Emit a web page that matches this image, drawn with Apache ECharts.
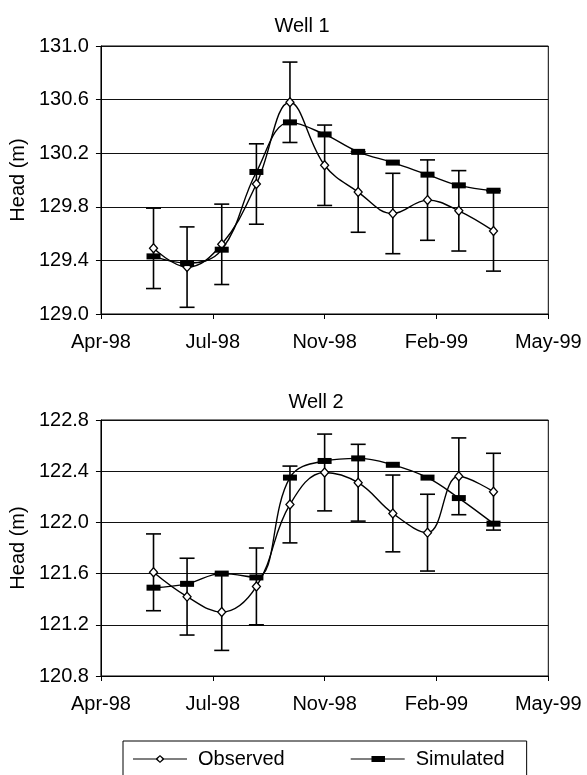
<!DOCTYPE html>
<html>
<head>
<meta charset="utf-8">
<script src="https://cdn.jsdelivr.net/npm/echarts@6/dist/echarts.min.js"></script>
<style>
html,body{margin:0;padding:0;background:#fff;}
#chart{width:587px;height:775px;}
</style>
</head>
<body>
<div id="chart"></div>
<script>
// ---- data ----
const sampleDates = ['1998-06-01','1998-07-01','1998-08-01','1998-09-01','1998-10-01','1998-11-01','1998-12-01','1999-01-01','1999-02-01','1999-03-01','1999-04-01'];
const well1Observed  = [129.49,129.35,129.52,129.97,130.58,130.11,129.91,129.75,129.85,129.77,129.62];
const well1Simulated = [129.43,129.38,129.48,130.06,130.43,130.34,130.21,130.13,130.04,129.96,129.92];
const well1Error     = [0.3,0.3,0.3,0.3,0.3,0.3,0.3,0.3,0.3,0.3,0.3];
const well2Observed  = [121.61,121.42,121.30,121.50,122.14,122.39,122.31,122.07,121.92,122.36,122.24];
const well2Simulated = [121.49,121.52,121.60,121.57,122.35,122.48,122.50,122.45,122.35,122.19,121.99];
const well2Error     = [0.3,0.3,0.3,0.3,0.3,0.3,0.3,0.3,0.3,0.3,0.3];
const titles = ['Well 1','Well 2'];
const seriesNames = ['Observed','Simulated'];
const yAxisName = 'Head (m)';
// x axis: spreadsheet date serials (Apr-98 .. May-99 every 100 days)
const xMin = 35900, xMax = 36300, xStep = 100;
const y1Min = 129.0, y1Max = 131.0, y2Min = 120.8, y2Max = 122.8, yStep = 0.4;

const MONTHS = ['Jan','Feb','Mar','Apr','May','Jun','Jul','Aug','Sep','Oct','Nov','Dec'];
const EPOCH = Date.UTC(1899,11,30);
function toSerial(s){const p=s.split('-').map(Number);return Math.round((Date.UTC(p[0],p[1]-1,p[2])-EPOCH)/86400000);}
function fmtSerial(v){const d=new Date(EPOCH+Math.round(v)*86400000);return MONTHS[d.getUTCMonth()]+'-'+String(d.getUTCFullYear()).slice(2);}
const xs = sampleDates.map(toSerial);

const FONT = 'Liberation Sans, Arial, sans-serif';
const FS = 20;

function pairs(vals){return vals.map((v,i)=>[xs[i],v]);}
function errData(vals,err){return vals.map((v,i)=>[xs[i],v-err[i],v+err[i]]);}

function errRender(params, api){
  const x = api.value(0);
  const lo = api.coord([x, api.value(1)]);
  const hi = api.coord([x, api.value(2)]);
  const w = 7.5;
  const st = {stroke:'#000', lineWidth:1.6};
  return {type:'group', children:[
    {type:'line', shape:{x1:hi[0],y1:hi[1],x2:lo[0],y2:lo[1]}, style:st},
    {type:'line', shape:{x1:hi[0]-w,y1:hi[1],x2:hi[0]+w,y2:hi[1]}, style:st},
    {type:'line', shape:{x1:lo[0]-w,y1:lo[1],x2:lo[0]+w,y2:lo[1]}, style:st}
  ]};
}

function xAxisCfg(gi){
  return {
    type:'value', gridIndex:gi, min:xMin, max:xMax, interval:xStep,
    axisLine:{show:true, onZero:false, lineStyle:{color:'#000', width:1}},
    axisTick:{show:true, inside:false, length:5, lineStyle:{color:'#000'}},
    splitLine:{show:false},
    axisLabel:{color:'#000', fontFamily:FONT, fontSize:FS, margin:18, formatter:fmtSerial, showMinLabel:true, showMaxLabel:true}
  };
}
function yAxisCfg(gi,mn,mx){
  return {
    type:'value', gridIndex:gi, min:mn, max:mx, interval:yStep,
    name:yAxisName, nameLocation:'middle', nameRotate:90, nameGap:72,
    nameTextStyle:{color:'#000', fontFamily:FONT, fontSize:FS},
    axisLine:{show:true, lineStyle:{color:'#000', width:1}},
    axisTick:{show:true, inside:false, length:5, lineStyle:{color:'#000'}},
    splitLine:{show:true, lineStyle:{color:'#111', width:1}},
    axisLabel:{color:'#000', fontFamily:FONT, fontSize:FS, margin:12, formatter:v=>v.toFixed(1)}
  };
}
const obsStyle = {
  type:'line', smooth:0.4, symbol:'diamond', symbolSize:[8,9], showSymbol:true,
  lineStyle:{color:'#000', width:1.4},
  itemStyle:{color:'#fff', borderColor:'#000', borderWidth:1.3},
  z:3, animation:false
};
const simStyle = {
  type:'line', smooth:0.4, symbol:'rect', symbolSize:[14,6], showSymbol:true,
  lineStyle:{color:'#000', width:1.4},
  itemStyle:{color:'#000'},
  z:4, animation:false
};

const obsIcon = 'path://M0,3.5H22.9L27,0L31.1,3.5H54V4.5H31.1L27,8L22.9,4.5H0Z M27,1.6L24.6,4L27,6.4L29.4,4Z';
const simIcon = 'path://M0,3.5H20V1.2H33V3.5H52V4.5H33V6.8H20V4.5H0Z';

const option = {
  backgroundColor:'#fff',
  animation:false,
  title:[
    {text:titles[0], left:297, top:11, textAlign:'center', textStyle:{fontFamily:FONT, fontSize:FS, fontWeight:'normal', color:'#000'}},
    {text:titles[1], left:311, top:387, textAlign:'center', textStyle:{fontFamily:FONT, fontSize:FS, fontWeight:'normal', color:'#000'}}
  ],
  grid:[
    {left:100.7, right:38.7, top:46, height:268, show:true, borderColor:'#000', borderWidth:1, backgroundColor:'transparent'},
    {left:100.7, right:38.7, top:420, height:256, show:true, borderColor:'#000', borderWidth:1, backgroundColor:'transparent'}
  ],
  xAxis:[xAxisCfg(0), xAxisCfg(1)],
  yAxis:[yAxisCfg(0,y1Min,y1Max), yAxisCfg(1,y2Min,y2Max)],
  legend:{
    left:123, top:741, orient:'horizontal', selectedMode:false,
    borderColor:'#000', borderWidth:1, padding:[8,22,8,10],
    itemWidth:54, itemHeight:8, itemGap:66,
    textStyle:{fontFamily:FONT, fontSize:FS, color:'#000', padding:[0,0,0,6]},
    data:[
      {name:seriesNames[0], icon:obsIcon, itemStyle:{color:'#000', borderWidth:0, borderColor:'transparent'}},
      {name:seriesNames[1], icon:simIcon, itemStyle:{color:'#000', borderWidth:0, borderColor:'transparent'}}
    ]
  },
  series:[
    {type:'custom', name:'err1', xAxisIndex:0, yAxisIndex:0, renderItem:errRender, data:errData(well1Observed,well1Error), encode:{x:0,y:[1,2]}, z:2, silent:true},
    Object.assign({name:seriesNames[0], xAxisIndex:0, yAxisIndex:0, data:pairs(well1Observed)}, obsStyle),
    Object.assign({name:seriesNames[1], xAxisIndex:0, yAxisIndex:0, data:pairs(well1Simulated)}, simStyle),
    {type:'custom', name:'err2', xAxisIndex:1, yAxisIndex:1, renderItem:errRender, data:errData(well2Observed,well2Error), encode:{x:0,y:[1,2]}, z:2, silent:true},
    Object.assign({name:seriesNames[0], xAxisIndex:1, yAxisIndex:1, data:pairs(well2Observed)}, obsStyle),
    Object.assign({name:seriesNames[1], xAxisIndex:1, yAxisIndex:1, data:pairs(well2Simulated)}, simStyle)
  ]
};
const chart = echarts.init(document.getElementById('chart'), null, {renderer:'canvas'});
chart.setOption(option);
</script>
</body>
</html>
